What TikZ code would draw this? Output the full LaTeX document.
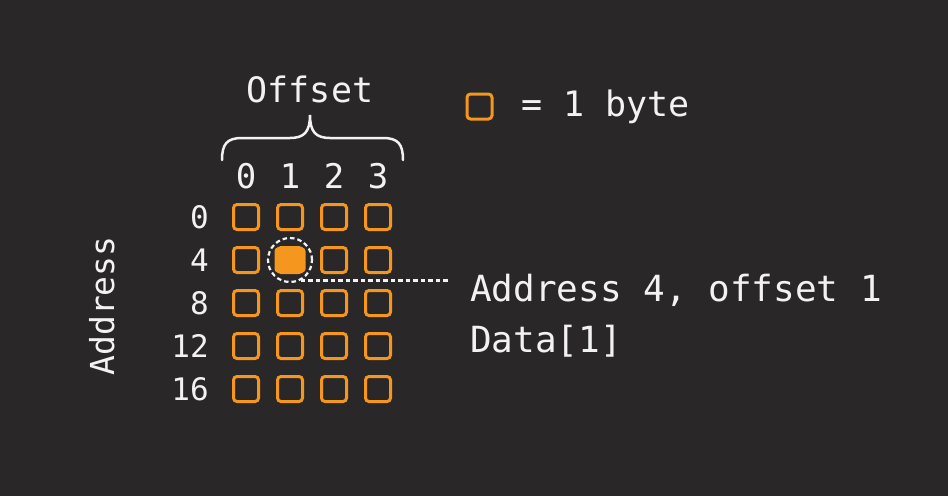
\documentclass[tikz,border=0pt]{standalone}
\usepackage{fontspec}
\setmainfont{DejaVu Sans Mono}
\definecolor{bg}{HTML}{2A2728}
\definecolor{byteor}{HTML}{F5961E}
\definecolor{txt}{HTML}{F2F2F2}
\begin{document}
\begin{tikzpicture}[x=1pt,y=-1pt,
  bytebox/.style={draw=byteor,line width=3pt,rounded corners=3.5pt,minimum size=25pt,inner sep=0pt},
  lbl/.style={text=txt,inner sep=0pt},
  rowlbl/.style={lbl,font=\fontsize{31}{31}\selectfont,anchor=base east},
  collbl/.style={lbl,font=\fontsize{34}{34}\selectfont,anchor=base},
  dashwhite/.style={draw=txt,line width=2.2pt,dash pattern=on 4.5pt off 3pt}]
\fill[bg] (0,0) rectangle (948,496);
\useasboundingbox (0,0) rectangle (948,496);
% grid
\foreach \c/\x in {0/246,1/290,2/334,3/378}{
  \foreach \r/\y in {0/217,1/260,2/303,3/346,4/389}{
    \node[bytebox] (b\r\c) at (\x,\y) {};
  }
}
\fill[byteor,rounded corners=3.5pt] ([shift={(-1.5,1.5)}]b11.north west) rectangle ([shift={(1.5,-1.5)}]b11.south east);
% row labels
\foreach \r/\y/\t in {0/217/0,1/260/4,2/303/8,3/346/12,4/389/16}{
  \node[rowlbl] (r\r) at (209,\y+11) {\t};
}
% column labels
\foreach \c/\x in {0/246,1/290,2/334,3/378}{
  \node[collbl] (c\c) at (\x,188) {\c};
}
% brace
\draw[txt,line width=2.5pt,line cap=round] (222,160) .. controls (222,144) and (227,138) .. (242,138)
  -- (290,138) .. controls (304,138) and (310,132) .. (310,115)
  .. controls (310,132) and (316,138) .. (330,138) -- (383,138)
  .. controls (398,138) and (403,144) .. (403,160);
\node[lbl,font=\fontsize{35}{35}\selectfont,anchor=base] (offset) at (310,102) {Offset};
% legend
\node[bytebox] (leg) at (479.5,106.5) {};
\node[lbl,font=\fontsize{35}{35}\selectfont,anchor=base west] (legt) at (521,116) {= 1 byte};
% address
\node[lbl,font=\fontsize{33}{33}\selectfont,rotate=90,anchor=base] (addr) at (114,306) {Address};
% highlight
\node[circle,dashwhite,minimum size=44pt,inner sep=0pt] (hl) at (290,260) {};
\coordinate (lend) at (448,281);
\draw[dashwhite] (hl.-62) -- (hl.-62 -| lend);
\node[lbl,font=\fontsize{36}{36}\selectfont,anchor=base west] (desc) at (470,301) {Address 4, offset 1};
\node[lbl,font=\fontsize{36}{36}\selectfont,anchor=base west] (data) at (470,352) {Data[1]};
\end{tikzpicture}
\end{document}
